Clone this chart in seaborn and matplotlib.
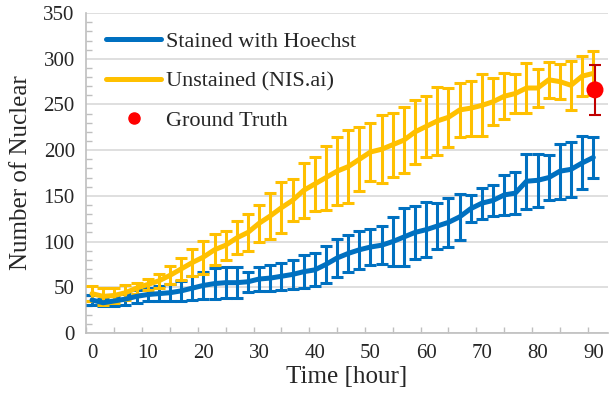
import numpy as np
import pandas as pd
import seaborn as sns
import matplotlib.pyplot as plt
from matplotlib.ticker import MultipleLocator, FixedLocator

hours = [0, 2, 4, 6, 8, 10, 12, 14, 16, 18, 20, 22, 24, 26, 28, 30, 32, 34, 36, 38, 40, 42, 44,
         46, 48, 50, 52, 54, 56, 58, 60, 62, 64, 66, 68, 70, 72, 74, 76, 78, 80, 82, 84, 86, 88, 90]

stained = [36, 33, 35, 37, 40, 42, 43, 44, 46, 49, 52, 54, 55, 55, 56, 59, 60, 62, 64, 67, 69, 75, 82,
           87, 91, 94, 96, 100, 105, 110, 113, 117, 121, 127, 136, 142, 145, 151, 153, 166, 167, 170, 177, 179, 186, 192]
stained_err = [5, 4, 5, 6, 7, 7, 8, 9, 11, 13, 15, 17, 17, 17, 11, 13, 14, 15, 16, 18, 18, 20, 21,
               20, 21, 20, 21, 27, 32, 29, 30, 25, 27, 25, 15, 17, 17, 22, 23, 30, 29, 25, 30, 30, 29, 22]

unstained = [43, 40, 41, 44, 49, 53, 57, 63, 70, 77, 83, 91, 96, 104, 110, 120, 128, 137, 145, 156, 163, 170, 177,
             182, 190, 198, 201, 206, 211, 220, 226, 232, 236, 244, 246, 249, 253, 259, 262, 268, 268, 277, 275, 271, 281, 284]
unstained_err = [8, 9, 8, 8, 6, 6, 8, 10, 12, 15, 18, 17, 16, 18, 20, 20, 25, 28, 23, 30, 30, 35, 37,
                 40, 35, 32, 37, 35, 36, 35, 33, 37, 32, 30, 30, 34, 26, 25, 21, 27, 21, 20, 19, 27, 22, 24]

truth_hour = [90.3]
truth_count = [266]
truth_err = [27]

blue = '#0070C0'
yellow = '#FFC000'

df = pd.DataFrame({
    'hour': hours * 2,
    'count': stained + unstained,
    'err': stained_err + unstained_err,
    'series': ['Stained with Hoechst'] * len(hours) + ['Unstained (NIS.ai)'] * len(hours),
})

sns.set_theme(style='white')
plt.rcParams['font.family'] = ['Liberation Serif', 'DejaVu Serif']

fig = plt.figure(figsize=(6.09, 4.09), dpi=100)
ax = fig.add_axes([0.141, 0.186, 0.857, 0.782])

colors = {'Stained with Hoechst': blue, 'Unstained (NIS.ai)': yellow}
for name, sub in df.groupby('series', sort=False):
    ax.errorbar(sub['hour'], sub['count'], yerr=sub['err'], fmt='none', ecolor=colors[name],
                elinewidth=2.2, capsize=4.5, capthick=2.2, zorder=3)
sns.lineplot(data=df, x='hour', y='count', hue='series', palette=colors, lw=3.6, ax=ax,
             zorder=4, legend=False)

ax.errorbar(truth_hour, truth_count, yerr=truth_err, fmt='none', ecolor='#C00000',
            elinewidth=1.5, capsize=4, capthick=1.5, zorder=5)
sns.scatterplot(x=truth_hour, y=truth_count, color='#FF0000', s=150, edgecolor='none', ax=ax, zorder=6)

ax.set_xlim(-1.1, 92.6)
ax.set_ylim(0, 350)
ax.set_xticks(range(0, 91, 10))
ax.xaxis.set_minor_locator(FixedLocator(np.arange(-1, 93, 5)))
ax.yaxis.set_major_locator(MultipleLocator(50))
ax.yaxis.set_minor_locator(MultipleLocator(10))
ax.tick_params(axis='both', which='major', length=0, labelsize=15, pad=8)
ax.tick_params(axis='x', which='minor', bottom=True, direction='in', length=4, color='#BFBFBF')
ax.tick_params(axis='y', which='minor', left=True, direction='in', length=4, color='#BFBFBF')
ax.grid(axis='y', which='major', color='#D9D9D9', lw=1.2)
ax.set_axisbelow(True)
for s in ['top', 'right']:
    ax.spines[s].set_visible(False)
for s in ['left', 'bottom']:
    ax.spines[s].set_color('#BFBFBF')
    ax.spines[s].set_linewidth(1.2)

ax.set_xlabel('Time [hour]', fontsize=18, labelpad=2)
ax.set_ylabel('Number of Nuclear', fontsize=18, labelpad=8)

handles = [
    plt.Line2D([], [], color=blue, lw=3.6),
    plt.Line2D([], [], color=yellow, lw=3.6),
    plt.Line2D([], [], color='#FF0000', marker='o', ls='none', markersize=8),
]
ax.legend(handles, ['Stained with Hoechst', 'Unstained (NIS.ai)', 'Ground Truth'],
          loc='upper left', bbox_to_anchor=(0.0, 1.005), frameon=False, fontsize=16,
          handlelength=2.5, labelspacing=0.85, handletextpad=0.2)

fig.savefig('out.png', dpi=100)
